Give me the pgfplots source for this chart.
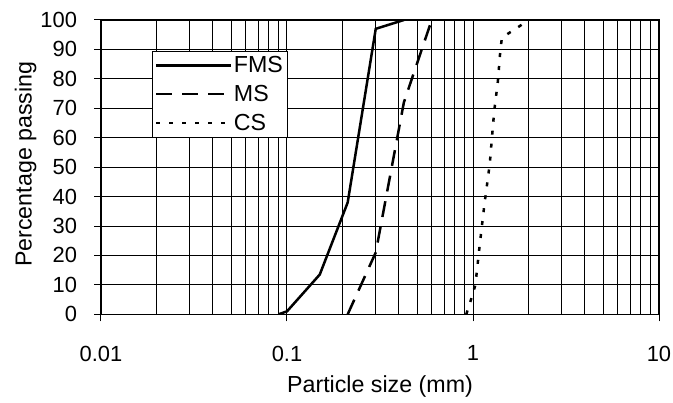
\documentclass[border=0pt]{standalone}
\usepackage{fontspec}
\setmainfont{Liberation Sans}
\usepackage{pgfplots}
\pgfplotsset{compat=1.18}
\newcommand{\cf}{\fontsize{22}{26}\selectfont}
\newcommand{\lf}{\fontsize{23.3}{28}\selectfont}
\begin{document}
\begin{tikzpicture}
\begin{axis}[
  scale only axis,
  width=558bp, height=294.3bp,
  xmode=log, xmin=0.01, xmax=10,
  ymin=0, ymax=100,
  xtick={0.01,0.1,1,10},
  xticklabels={0.01,0.1,1,10},
  minor xtick={0.02,0.03,0.04,0.05,0.06,0.07,0.08,0.09,0.2,0.3,0.4,0.5,0.6,0.7,0.8,0.9,2,3,4,5,6,7,8,9},
  ytick={0,10,...,100},
  xmajorgrids, xminorgrids, ymajorgrids,
  grid style={black, line width=1bp},
  minor grid style={black, line width=1bp},
  axis line style={black, line width=1.4bp},
  tick align=outside, xtick pos=bottom, ytick pos=left,
  major tick length=7bp, minor tick length=0bp,
  tick style={black, line width=1bp},
  /pgf/number format/assume math mode=true,
  tick label style={font=\cf},
  xticklabel style={yshift=-21bp},
  yticklabel style={xshift=-13.5bp},
  xlabel={Particle size (mm)},
  ylabel={Percentage passing},
  label style={font=\lf},
  xlabel style={at={([yshift=-58bp]axis description cs:0.5,0)}, anchor=north},
  ylabel style={at={([xshift=-61bp]axis description cs:0,0.51)}, anchor=south},
  legend cell align=left,
  legend style={at={(axis description cs:0.0909,0.895)}, anchor=north west,
    draw=black, fill=white, font=\lf,
    inner xsep=3bp, inner ysep=4bp, row sep=8bp,
    nodes={inner sep=1.5bp}},
  legend image code/.code={\draw[#1, line width=2.5bp] (0bp,0bp) -- (75bp,0bp);},
]
\addplot[black, line width=2.5bp] coordinates {
  (0.09,0) (0.1,1) (0.15,13.5) (0.212,38) (0.3,97) (0.425,100)};
\addlegendentry{FMS}
\addplot[black, line width=2.5bp, dash pattern=on 16bp off 10bp] coordinates {
  (0.212,0) (0.3,21) (0.425,72) (0.6,100)};
\addlegendentry{MS}
\addplot[black, line width=2.5bp, dash pattern=on 4bp off 9bp] coordinates {
  (0.92,0) (0.965,4) (1.03,10) (1.08,22) (1.15,37) (1.23,51) (1.30,69) (1.36,79) (1.40,89) (1.43,94) (2.0,100)};
\addlegendentry{CS}
\end{axis}
\pgfresetboundingbox
\useasboundingbox (current axis.south west) ++(-101bp,-88.7bp) rectangle ++(673bp,403bp);
\end{tikzpicture}
\end{document}
